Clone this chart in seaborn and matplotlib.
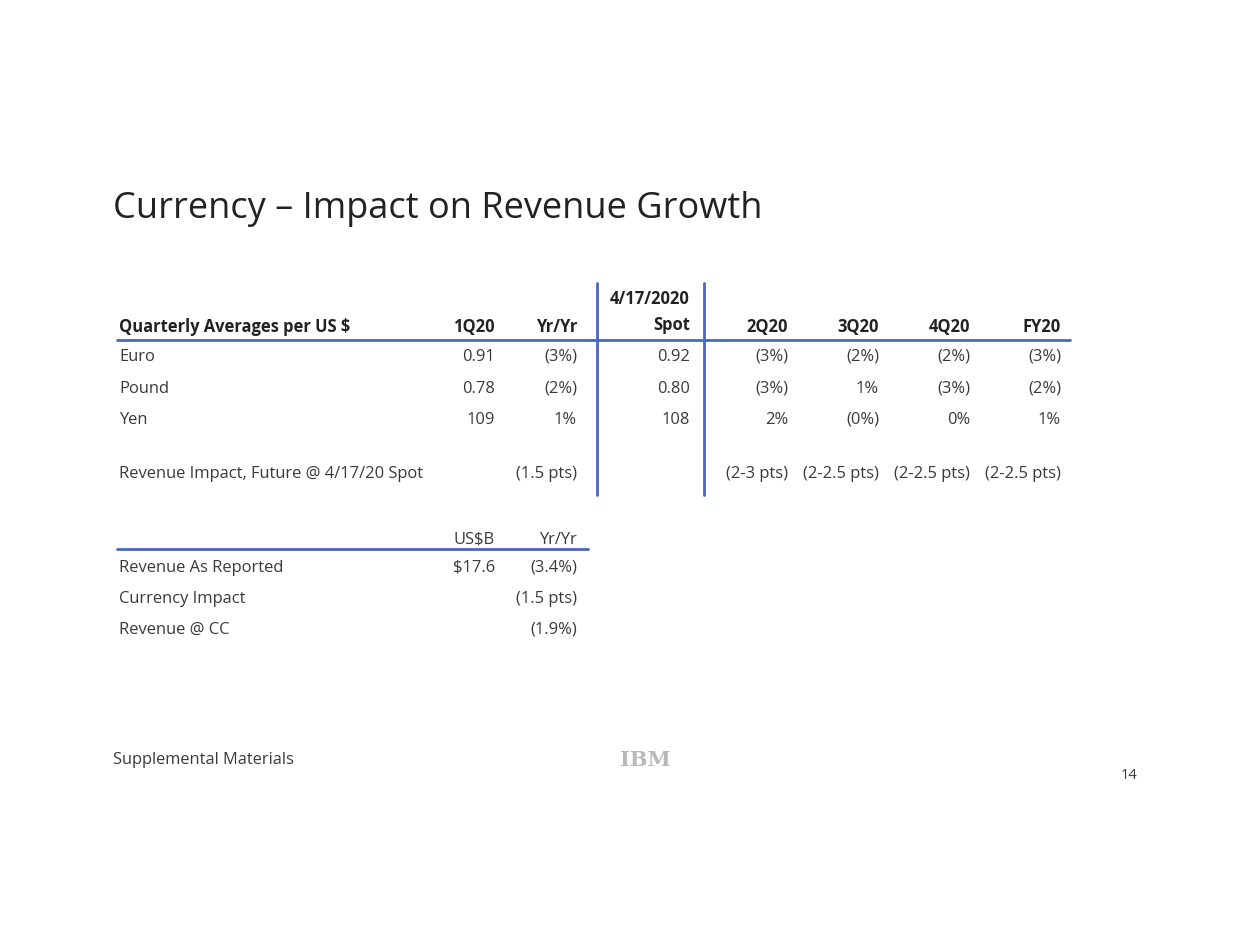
import matplotlib.pyplot as plt
import seaborn as sns

sns.set_theme(style="white")
plt.rcParams["font.family"] = ["Open Sans", "DejaVu Sans"]

# ---------- Data ----------
title = "Currency \u2013 Impact on Revenue Growth"

currencies = ["Euro", "Pound", "Yen"]
avg_1q20 = ["0.91", "0.78", "109"]
yy_1q20 = ["(3%)", "(2%)", "1%"]
spot = ["0.92", "0.80", "108"]
q2 = ["(3%)", "(3%)", "2%"]
q3 = ["(2%)", "1%", "(0%)"]
q4 = ["(2%)", "(3%)", "0%"]
fy = ["(3%)", "(2%)", "1%"]

impact_label = "Revenue Impact, Future @ 4/17/20 Spot"
impact_1q = "(1.5 pts)"
impact_future = ["(2-3 pts)", "(2-2.5 pts)", "(2-2.5 pts)", "(2-2.5 pts)"]

future_cols = ["2Q20", "3Q20", "4Q20", "FY20"]

rev_labels = ["Revenue As Reported", "Currency Impact", "Revenue @ CC"]
rev_usd = ["$17.6", "", ""]
rev_yy = ["(3.4%)", "(1.5 pts)", "(1.9%)"]

# ---------- Layout ----------
W, H = 1233, 953
fig = plt.figure(figsize=(W / 100, H / 100), dpi=100)
ax = fig.add_axes([0, 0, 1, 1])
ax.set_xlim(0, W)
ax.set_ylim(H, 0)
ax.axis("off")

BLUE = "#4a67bd"
TXT = "#3a3a3a"
HDR = "#222222"
FS = 11.9

x_label = 119
x_1q, x_yy, x_spot = 495, 577, 690
x_future = [788, 879, 970, 1061]
row_y = [357, 389, 420]


def t(x, y, s, ha="right", bold=False, size=FS, color=TXT):
    ax.text(x, y, s, ha=ha, va="center", fontsize=size,
            fontweight="bold" if bold else "normal", color=color)


ax.text(113, 209, title, ha="left", va="center", fontsize=26, color=HDR)

# header
t(x_spot, 299, "4/17/2020", bold=True, color=HDR)
t(x_label, 327, "Quarterly Averages per US $", ha="left", bold=True, color=HDR)
t(x_1q, 327, "1Q20", bold=True, color=HDR)
t(x_yy, 327, "Yr/Yr", bold=True, color=HDR)
t(x_spot, 325, "Spot", bold=True, color=HDR)
for x, c in zip(x_future, future_cols):
    t(x, 327, c, bold=True, color=HDR)

# rows
for i, y in enumerate(row_y):
    t(x_label, y, currencies[i], ha="left")
    t(x_1q, y, avg_1q20[i])
    t(x_yy, y, yy_1q20[i])
    t(x_spot, y, spot[i])
    for x, col in zip(x_future, [q2, q3, q4, fy]):
        t(x, y, col[i])

t(x_label, 474, impact_label, ha="left")
t(x_yy, 474, impact_1q)
for x, v in zip(x_future, impact_future):
    t(x, 474, v)

ax.plot([117, 1070], [341, 341], color=BLUE, lw=2)
ax.plot([597, 597], [284, 496], color=BLUE, lw=2)
ax.plot([704, 704], [284, 496], color=BLUE, lw=2)

# second table
t(x_1q, 540, "US$B")
t(x_yy, 540, "Yr/Yr")
ax.plot([117, 588], [550, 550], color=BLUE, lw=2)
for y, lab, usd, yy in zip([568, 599, 630], rev_labels, rev_usd, rev_yy):
    t(x_label, y, lab, ha="left")
    t(x_1q, y, usd)
    t(x_yy, y, yy)

# footer
t(113, 760, "Supplemental Materials", ha="left", size=11.8)
ax.text(645, 760, "IBM", ha="center", va="center", fontsize=15,
        fontweight="bold", family="DejaVu Serif", color="#b8b8b8")
t(1137, 776, "14", size=10.5)

fig.savefig("out.png", dpi=100, facecolor="white")
